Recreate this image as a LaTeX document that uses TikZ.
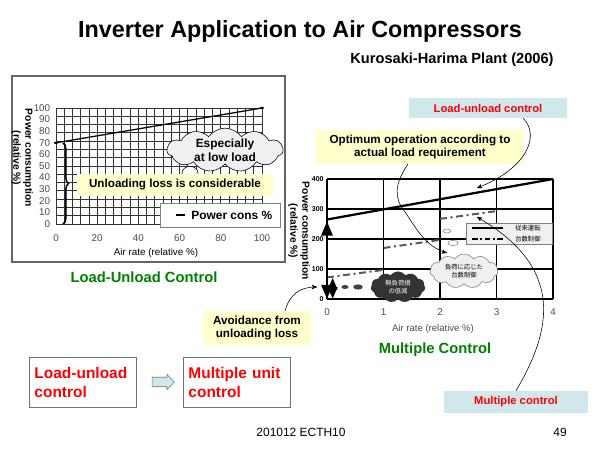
\documentclass[tikz,border=0pt]{standalone}
\usepackage{fontspec}
\setmainfont{Liberation Sans}
\newfontfamily\cjk{Noto Sans CJK JP}
\usepackage{tikz}
\usetikzlibrary{shapes.geometric, shapes.symbols, shapes.arrows, arrows, decorations.pathreplacing}
\definecolor{noteyellow}{RGB}{255,255,204}
\definecolor{noteblue}{RGB}{208,232,236}
\definecolor{ctrlgreen}{RGB}{0,128,0}
\definecolor{alertred}{RGB}{255,0,0}
\tikzstyle{note} =
[rectangle, fill=noteyellow, text centered, align=center, inner sep=0pt,
font=\fontsize{8.3}{9.6}\selectfont\bfseries]
\tikzstyle{tag} =
[rectangle, fill=noteblue, text centered, inner sep=0pt, text=alertred,
font=\fontsize{8}{9}\selectfont\bfseries]
\tikzstyle{ctrlbox} =
[rectangle, draw=black!55, fill=white, align=left, text=alertred,
minimum width=2.68cm, minimum height=1.25cm, text width=2.4cm,
font=\fontsize{11}{13.5}\selectfont\bfseries]
\tikzstyle{chartname} =
[text=ctrlgreen, font=\fontsize{10.5}{12}\selectfont\bfseries]
\tikzstyle{bubble} =
[cloud, cloud puffs=11, cloud puff arc=110, cloud ignores aspect, inner sep=0pt, align=center]
\tikzstyle{axistitle} =
[rotate=-90, align=center, font=\fontsize{7.3}{8.5}\selectfont\bfseries]
\tikzstyle{ticklabel} = [text=black!70, font=\fontsize{7}{8}\selectfont]
\tikzstyle{line} = [draw, -stealth']
\begin{document}
\begin{tikzpicture}[x=0.025cm, y=-0.025cm]
  \useasboundingbox (0,0) rectangle (600,450);
  % title
  \node (title) at (300,31) {\fontsize{16.6}{19}\selectfont\bfseries Inverter Application to Air Compressors};
  \node (plant) at (452,60) {\fontsize{10.4}{12}\selectfont\bfseries Kurosaki-Harima Plant (2006)};
  %
  % left chart: load-unload
  \draw [black!60, line width=0.8pt] (12,76) rectangle (285,262);
  \begin{scope}[shift={(56,224)}, xscale=2.06, yscale=-1.16]
    \foreach \i in {0,...,25}
      \draw [black!80, line width=0.6pt] (\i*4,0) -- (\i*4,100);
    \foreach \j in {0,...,14}
      \draw [black!80, line width=0.6pt] (0,\j*100/14) -- (100,\j*100/14);
    \foreach \v in {0,10,...,100}
      \node [ticklabel, anchor=east, inner sep=1pt] at (-2,\v) {\v};
    \foreach \v in {0,20,...,100}
      \node [ticklabel] at (\v,-12) {\v};
    \draw [line width=0.9pt] (0,70) -- (100,100);
    \fill (0,70) circle (0.7pt) (100,100) circle (0.7pt);
  \end{scope}
  \node [axistitle] (lytitle) at (22,158) {Power consumption\\(relative \%)};
  \node [font=\fontsize{7}{8}\selectfont] (lxtitle) at (156,253) {Air rate (relative \%)};
  \draw [decorate, decoration={brace, amplitude=4pt}, line width=1.1pt] (63,143) -- (63,224);
  \node [draw, fill=white, ellipse, minimum width=0.4cm, minimum height=0.28cm] (lowpuff) at (190,173) {};
  \node [note, minimum width=4.88cm, minimum height=0.53cm] (unloadloss) at (175,185)
   {Unloading loss is considerable};
  \node [bubble, draw, fill=black!6, minimum width=2.9cm, minimum height=0.95cm,
   font=\fontsize{8.5}{10}\selectfont\bfseries] (lowload) at (225,150) {Especially\\at low load};
  \node [draw=black!50, fill=white, minimum width=3cm, minimum height=0.6cm, inner sep=0pt] (legleft) at (220,215) {};
  \node [anchor=west, inner sep=0pt, font=\fontsize{8.5}{10}\selectfont\bfseries] (legtext) at (191,215) {Power cons \%};
  \coordinate (legmark) at (176,215);
  \draw [line width=0.8pt] (legmark) -- ++(9,0);
  \fill ([xshift=4.5*0.025cm]legmark) circle (0.8pt);
  \node [chartname] (luname) at (144,277) {Load-Unload Control};
  %
  % right chart: multiple units
  \begin{scope}[shift={(327,299)}, xscale=56.5, yscale=-0.3]
    \foreach \k in {0,...,4}
      \draw [line width=1.1pt] (\k,0) -- (\k,400);
    \foreach \v in {0,100,...,400}
      \draw [line width=1.1pt] (0,\v) -- (4,\v);
    \foreach \v in {0,100,...,400}
      \node [anchor=east, inner sep=1pt, font=\fontsize{5}{6}\selectfont\bfseries] at (-0.03,\v) {\v};
    \foreach \k in {0,...,4}
      \node [ticklabel] at (\k,-43) {\k};
    \draw [line width=1.6pt] (0,265) -- (4,400);
    \draw [black!65, line width=1.4pt, dash pattern=on 5pt off 2.5pt on 1.5pt off 2.5pt]
      (0,72) -- (1,97) (1,170) -- (2,197) (2,267) -- (3,293);
    \draw [line width=1.3pt, {triangle 45}-{triangle 45}] (0,1) -- (0,258);
    \draw [line width=0.9pt, {triangle 45}-{triangle 45}] (0.1,1) -- (0.1,70);
  \end{scope}
  \node [axistitle] (rytitle) at (299,231) {Power consumption\\(relative \%)};
  \node [text=black!70, font=\fontsize{6.8}{8}\selectfont] (rxtitle) at (433,329) {Air rate (relative \%)};
  \node [chartname] (muname) at (435,350) {Multiple Control};
  % blobs and clouds
  \node [ellipse, fill=black!75, minimum width=0.18cm, minimum height=0.1cm, inner sep=0pt] (blobs) at (345,287) {};
  \node [ellipse, fill=black!75, minimum width=0.24cm, minimum height=0.13cm, inner sep=0pt] (blobm) at (358,287) {};
  \node [bubble, fill=black!80, text=white, minimum width=1.36cm, minimum height=0.78cm,
   font=\cjk\fontsize{4.5}{6}\selectfont] (noload) at (398,287) {無負荷損\\の低減};
  \node [ellipse, draw=black!50, fill=white, minimum width=0.18cm, minimum height=0.1cm, inner sep=0pt] (puffs) at (447,231) {};
  \node [ellipse, draw=black!50, fill=white, minimum width=0.26cm, minimum height=0.13cm, inner sep=0pt] (puffm) at (453,243) {};
  \node [bubble, draw=black!50, fill=black!6, minimum width=1.7cm, minimum height=0.85cm,
   font=\cjk\fontsize{4.5}{6}\selectfont] (loadmatch) at (464,271) {負荷に応じた\\台数制御};
  % legend
  \node [draw=black!50, fill=black!6, minimum width=2.15cm, minimum height=0.53cm, inner sep=0pt] (legright) at (509,233.5) {};
  \coordinate (legsolid) at (472,228);
  \coordinate (legdash) at (472,239);
  \draw [line width=1pt] (legsolid) -- ++(31,0);
  \draw [line width=1pt, dash pattern=on 4pt off 2pt on 1pt off 2pt] (legdash) -- ++(31,0);
  \node [anchor=west, inner sep=0pt, font=\cjk\fontsize{4.5}{5}\selectfont] (legconv) at (515,228) {従来運転};
  \node [anchor=west, inner sep=0pt, font=\cjk\fontsize{4.5}{5}\selectfont] (legmult) at (515,239) {台数制御};
  %
  % annotation nodes
  \node [tag, minimum width=3.95cm, minimum height=0.5cm] (lutag) at (488,108) {Load-unload control};
  \node [note, minimum width=5.18cm, minimum height=0.83cm] (optimum) at (420,147)
   {Optimum operation according to\\actual load requirement};
  \node [tag, minimum width=3.6cm, minimum height=0.55cm] (mctag) at (516,402) {Multiple control};
  \node [note, minimum width=2.68cm, minimum height=0.85cm] (avoid) at (257,328)
   {Avoidance from\\unloading loss};
  \coordinate (luend) at (477,188);
  \coordinate (optend) at (447,253);
  \coordinate (mcend) at (477,217);
  \coordinate (avoidend) at (317,287);
  % annotation edges
  \path [line] ([xshift=0.88cm]lutag.south) .. controls (540,135) and (528,168) .. (luend);
  \path [line] ([xshift=-0.3cm]optimum.south) .. controls (394,185) and (394,198) .. (405,212)
   .. controls (416,228) and (425,246) .. (optend);
  \path [line] (mctag.north) .. controls (552,330) and (565,268) .. (mcend);
  \path [line] ([xshift=0.7cm]avoid.north) .. controls (290,294) and (300,287) .. (avoidend);
  %
  % bottom nodes
  \node [ctrlbox] (luctrl) at (82.5,382) {Load-unload\\control};
  \node [single arrow, draw=black!55, fill=noteblue, minimum width=0.38cm, minimum height=0.56cm,
   single arrow head extend=0.07cm, inner sep=0.11cm] (shift) at (161,382) {};
  \node [ctrlbox] (muctrl) at (236.5,382) {Multiple unit\\control};
  \node [font=\fontsize{8.5}{10}\selectfont] (code) at (301,432) {201012 ECTH10};
  \node [font=\fontsize{8.5}{10}\selectfont] (page) at (560,432) {49};
\end{tikzpicture}
\end{document}
